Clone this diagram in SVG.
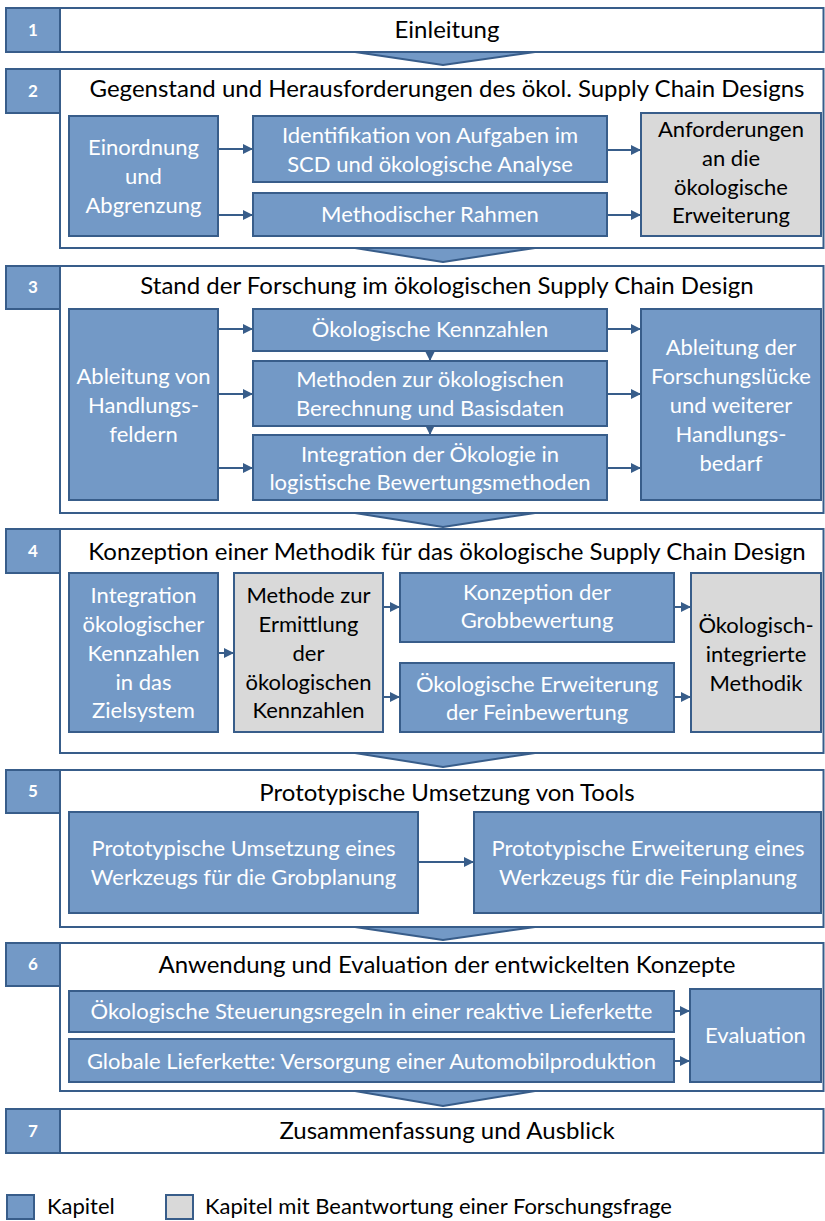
<svg xmlns="http://www.w3.org/2000/svg" width="825" height="1221" viewBox="0 0 825 1221">
<style>
.frame{fill:#fff;stroke:#385D8A;stroke-width:2}
.blue{fill:#7399C6;stroke:#385D8A;stroke-width:2}
.gray{fill:#D9D9D9;stroke:#385D8A;stroke-width:2}
.chev{fill:#7399C6;stroke:#385D8A;stroke-width:2;stroke-linejoin:round}
text{font-family:Lato,"Open Sans","Liberation Sans",sans-serif;text-anchor:middle}
.t{font-size:24px;fill:#000}
.w{font-size:22px;fill:#fff}
.k{font-size:22px;fill:#000}
.n{font-size:17px;font-weight:bold;fill:#fff}
.lg{font-size:22px;fill:#000;text-anchor:start}
#conn line{stroke:#385D8A;stroke-width:2;marker-end:url(#ah)}
</style>
<defs>
<marker id="ah" markerUnits="userSpaceOnUse" markerWidth="10" markerHeight="10" refX="10" refY="5" orient="auto">
<path d="M0,0 L10,5 L0,10 z" fill="#385D8A"/>
</marker>
</defs>

<!-- Section frames -->
<g id="sec1">
<rect class="frame" x="60" y="8" width="763.5" height="44"/>
<rect class="blue" x="6" y="8" width="54" height="44"/>
<text class="n" x="33" y="36">1</text>
<text class="t" x="447" y="38">Einleitung</text>
</g>
<g id="sec2">
<rect class="frame" x="60" y="69" width="763.5" height="179"/>
<rect class="blue" x="6" y="69" width="54" height="44"/>
<text class="n" x="33" y="97">2</text>
<text class="t" x="447" y="97">Gegenstand und Herausforderungen des ökol. Supply Chain Designs</text>
</g>
<g id="sec3">
<rect class="frame" x="60" y="266" width="763.5" height="247"/>
<rect class="blue" x="6" y="266" width="54" height="43"/>
<text class="n" x="33" y="293">3</text>
<text class="t" x="447" y="294">Stand der Forschung im ökologischen Supply Chain Design</text>
</g>
<g id="sec4">
<rect class="frame" x="60" y="529" width="763.5" height="224"/>
<rect class="blue" x="6" y="529" width="54" height="44"/>
<text class="n" x="33" y="557">4</text>
<text class="t" x="447" y="560">Konzeption einer Methodik für das ökologische Supply Chain Design</text>
</g>
<g id="sec5">
<rect class="frame" x="60" y="770" width="763.5" height="157"/>
<rect class="blue" x="6" y="770" width="54" height="43"/>
<text class="n" x="33" y="797">5</text>
<text class="t" x="447" y="801">Prototypische Umsetzung von Tools</text>
</g>
<g id="sec6">
<rect class="frame" x="60" y="943" width="763.5" height="148"/>
<rect class="blue" x="6" y="943" width="54" height="43"/>
<text class="n" x="33" y="970">6</text>
<text class="t" x="447" y="973">Anwendung und Evaluation der entwickelten Konzepte</text>
</g>
<g id="sec7">
<rect class="frame" x="60" y="1109" width="763.5" height="44"/>
<rect class="blue" x="6" y="1109" width="54" height="44"/>
<text class="n" x="33" y="1137">7</text>
<text class="t" x="447" y="1139">Zusammenfassung und Ausblick</text>
</g>

<!-- chevrons between chapters -->
<g id="chevrons">
<polygon class="chev" points="355,52 535,52 443,65"/>
<polygon class="chev" points="355,248 535,248 443,262"/>
<polygon class="chev" points="355,513 535,513 443,527"/>
<polygon class="chev" points="355,753 535,753 443,767"/>
<polygon class="chev" points="355,927 535,927 443,940"/>
<polygon class="chev" points="355,1091 535,1091 443,1106"/>
</g>

<!-- Chapter 2 nodes -->
<g id="einordnung">
<rect class="blue" x="69" y="116" width="149" height="120"/>
<text class="w" x="143.5" y="155">Einordnung</text>
<text class="w" x="143.5" y="184">und</text>
<text class="w" x="143.5" y="213">Abgrenzung</text>
</g>
<g id="identifikation">
<rect class="blue" x="253" y="116" width="354" height="66"/>
<text class="w" x="430" y="143">Identifikation von Aufgaben im</text>
<text class="w" x="430" y="172">SCD und ökologische Analyse</text>
</g>
<g id="rahmen">
<rect class="blue" x="253" y="193" width="354" height="43"/>
<text class="w" x="430" y="222">Methodischer Rahmen</text>
</g>
<g id="anforderungen">
<rect class="gray" x="641" y="113" width="180" height="123"/>
<text class="k" x="731" y="137">Anforderungen</text>
<text class="k" x="731" y="166">an die</text>
<text class="k" x="731" y="195">ökologische</text>
<text class="k" x="731" y="223">Erweiterung</text>
</g>

<!-- Chapter 3 nodes -->
<g id="handlungsfelder">
<rect class="blue" x="69" y="309" width="149" height="191"/>
<text class="w" x="143.5" y="384">Ableitung von</text>
<text class="w" x="143.5" y="413">Handlungs-</text>
<text class="w" x="143.5" y="442">feldern</text>
</g>
<g id="kennzahlen">
<rect class="blue" x="253" y="309" width="354" height="42"/>
<text class="w" x="430" y="337">Ökologische Kennzahlen</text>
</g>
<g id="methoden">
<rect class="blue" x="253" y="361" width="354" height="65"/>
<text class="w" x="430" y="387">Methoden zur ökologischen</text>
<text class="w" x="430" y="416">Berechnung und Basisdaten</text>
</g>
<g id="integration3">
<rect class="blue" x="253" y="435" width="354" height="65"/>
<text class="w" x="430" y="462">Integration der Ökologie in</text>
<text class="w" x="430" y="490">logistische Bewertungsmethoden</text>
</g>
<g id="forschungsluecke">
<rect class="blue" x="641" y="309" width="180" height="191"/>
<text class="w" x="731" y="355">Ableitung der</text>
<text class="w" x="731" y="384">Forschungslücke</text>
<text class="w" x="731" y="413">und weiterer</text>
<text class="w" x="731" y="442">Handlungs-</text>
<text class="w" x="731" y="471">bedarf</text>
</g>

<!-- Chapter 4 nodes -->
<g id="integration4">
<rect class="blue" x="69" y="573" width="149" height="159"/>
<text class="w" x="143.5" y="603">Integration</text>
<text class="w" x="143.5" y="632">ökologischer</text>
<text class="w" x="143.5" y="661">Kennzahlen</text>
<text class="w" x="143.5" y="690">in das</text>
<text class="w" x="143.5" y="718">Zielsystem</text>
</g>
<g id="ermittlung">
<rect class="gray" x="234" y="573" width="149" height="159"/>
<text class="k" x="308.5" y="603">Methode zur</text>
<text class="k" x="308.5" y="632">Ermittlung</text>
<text class="k" x="308.5" y="661">der</text>
<text class="k" x="308.5" y="690">ökologischen</text>
<text class="k" x="308.5" y="718">Kennzahlen</text>
</g>
<g id="grobbewertung">
<rect class="blue" x="400" y="573" width="274" height="69"/>
<text class="w" x="537" y="600">Konzeption der</text>
<text class="w" x="537" y="628">Grobbewertung</text>
</g>
<g id="feinbewertung">
<rect class="blue" x="400" y="663" width="274" height="69"/>
<text class="w" x="537" y="692">Ökologische Erweiterung</text>
<text class="w" x="537" y="720">der Feinbewertung</text>
</g>
<g id="methodik">
<rect class="gray" x="691" y="573" width="130" height="159"/>
<text class="k" x="756" y="633">Ökologisch-</text>
<text class="k" x="756" y="662">integrierte</text>
<text class="k" x="756" y="691">Methodik</text>
</g>

<!-- Chapter 5 nodes -->
<g id="grobplanung">
<rect class="blue" x="69" y="812" width="349" height="101"/>
<text class="w" x="243.5" y="856">Prototypische Umsetzung eines</text>
<text class="w" x="243.5" y="885">Werkzeugs für die Grobplanung</text>
</g>
<g id="feinplanung">
<rect class="blue" x="474" y="812" width="347" height="101"/>
<text class="w" x="648" y="856">Prototypische Erweiterung eines</text>
<text class="w" x="648" y="885">Werkzeugs für die Feinplanung</text>
</g>

<!-- Chapter 6 nodes -->
<g id="steuerungsregeln">
<rect class="blue" x="69" y="991" width="605" height="41"/>
<text class="w" x="371.5" y="1019">Ökologische Steuerungsregeln in einer reaktive Lieferkette</text>
</g>
<g id="globale">
<rect class="blue" x="69" y="1039" width="605" height="43"/>
<text class="w" x="371.5" y="1069">Globale Lieferkette: Versorgung einer Automobilproduktion</text>
</g>
<g id="evaluation">
<rect class="blue" x="690" y="989" width="131" height="93"/>
<text class="w" x="755.5" y="1043">Evaluation</text>
</g>

<!-- Connectors -->
<g id="conn">
<line x1="218" y1="149" x2="253" y2="149"/>
<line x1="218" y1="215" x2="253" y2="215"/>
<line x1="607" y1="150" x2="641" y2="150"/>
<line x1="607" y1="215" x2="641" y2="215"/>

<line x1="218" y1="329" x2="253" y2="329"/>
<line x1="218" y1="394" x2="253" y2="394"/>
<line x1="218" y1="468" x2="253" y2="468"/>
<line x1="607" y1="329" x2="641" y2="329"/>
<line x1="607" y1="394" x2="641" y2="394"/>
<line x1="607" y1="468" x2="641" y2="468"/>
<line x1="430" y1="351" x2="430" y2="361"/>
<line x1="430" y1="426" x2="430" y2="435"/>

<line x1="218" y1="653" x2="234" y2="653"/>
<line x1="383" y1="607" x2="400" y2="607"/>
<line x1="383" y1="697" x2="400" y2="697"/>
<line x1="674" y1="607" x2="691" y2="607"/>
<line x1="674" y1="697" x2="691" y2="697"/>

<line x1="418" y1="862" x2="474" y2="862"/>

<line x1="674" y1="1011" x2="690" y2="1011"/>
<line x1="674" y1="1061" x2="690" y2="1061"/>
</g>

<!-- Legend -->
<g id="legend">
<rect class="blue" x="7" y="1195" width="27" height="24"/>
<text class="lg" x="47" y="1214">Kapitel</text>
<rect class="gray" x="166" y="1195" width="27" height="24"/>
<text class="lg" x="205" y="1214">Kapitel mit Beantwortung einer Forschungsfrage</text>
</g>
</svg>
